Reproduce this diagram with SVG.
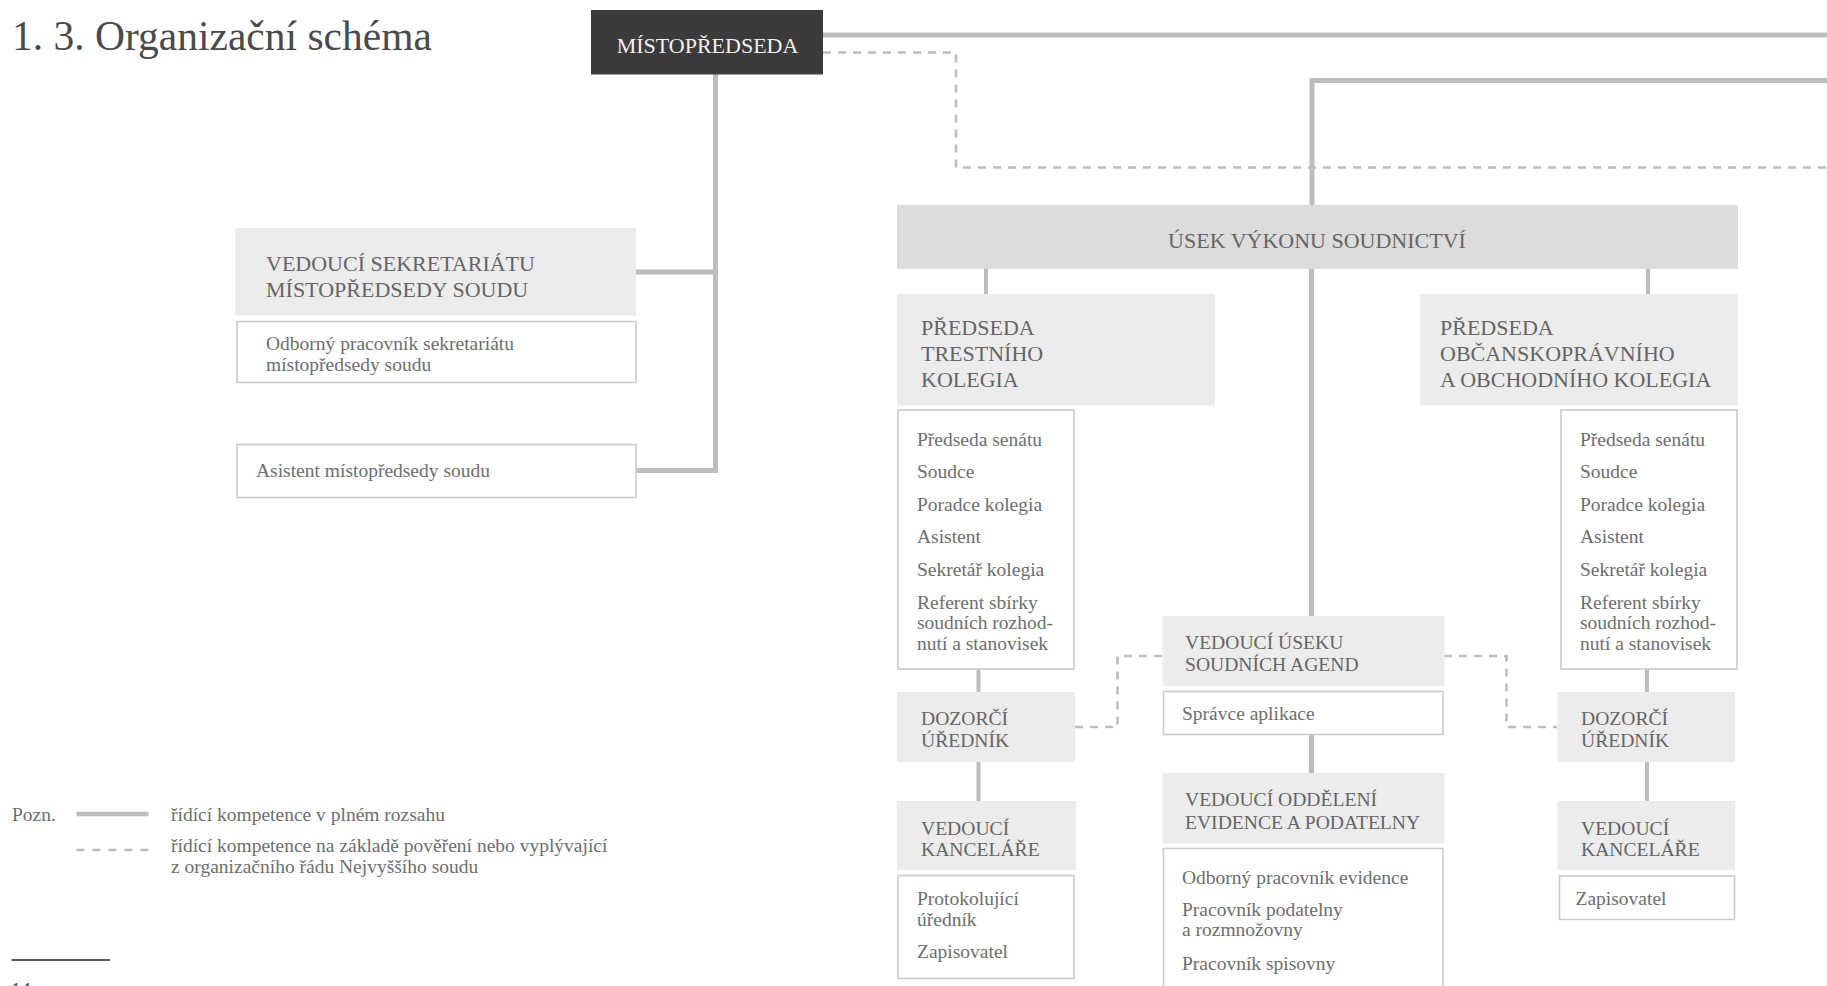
<svg xmlns="http://www.w3.org/2000/svg" width="1827" height="986" viewBox="0 0 1827 986">
<style>
text{font-family:"Liberation Serif","Times New Roman",serif;fill:#6a6a6a}
.title{font-size:41.5px;fill:#4a4a4a}
.h{font-size:22px;fill:#656565}
.hs{font-size:19.6px;fill:#656565}
.b{font-size:19.5px;fill:#6e6e6e}
.hd{fill:#ececec}
.sec{fill:#dcdcdc}
.lst{fill:#fff;stroke:#cbcbcb;stroke-width:1.6}
.top{fill:#3b3b3b}
.sl{fill:none;stroke:#bdbdbd;stroke-width:5}
.sl4{fill:none;stroke:#bdbdbd;stroke-width:4}
.dl{fill:none;stroke:#bdbdbd;stroke-width:2.6;stroke-dasharray:8 7}
</style>
<rect width="1827" height="986" fill="#fff"/>
<text class="title" x="12" y="50">1. 3. Organizační schéma</text>

<g id="connectors">
<path class="sl" d="M823,35 H1827"/>
<path class="dl" d="M823,52.5 H956 V167.5 H1827"/>
<path class="sl" d="M1312,205 V80.5 H1827"/>
<path class="sl" d="M715.5,74 V470.5 H636 M715.5,272 H636"/>
<path class="sl4" d="M986,269 V294 M1648,269 V294"/>
<path class="sl" d="M1311.5,269 V616"/>
<path class="sl4" d="M978.5,669 V692 M978.5,762 V801"/>
<path class="sl4" d="M1647,669 V692 M1647,762 V801"/>
<path class="sl" d="M1311.5,735 V773"/>
<path class="dl" d="M1075,727 H1117.5 V656 H1162"/>
<path class="dl" d="M1444,656 H1506.5 V727 H1557"/>
</g>

<g id="mistopredseda">
<rect class="top" x="591" y="10" width="232" height="64.5"/>
<text class="h" x="707.5" y="53" text-anchor="middle" style="fill:#f2f2f2">MÍSTOPŘEDSEDA</text>
</g>

<g id="vedouci-sekretariatu">
<rect class="hd" x="235" y="228" width="401" height="87.5"/>
<text class="h" x="266" y="270.5">VEDOUCÍ SEKRETARIÁTU</text>
<text class="h" x="266" y="296.5">MÍSTOPŘEDSEDY SOUDU</text>
</g>

<g id="odborny-pracovnik">
<rect class="lst" x="237" y="321.5" width="399" height="61"/>
<text class="b" x="266" y="350">Odborný pracovník sekretariátu</text>
<text class="b" x="266" y="370.5">místopředsedy soudu</text>
</g>

<g id="asistent">
<rect class="lst" x="237" y="444.5" width="399" height="53"/>
<text class="b" x="256" y="476.5">Asistent místopředsedy soudu</text>
</g>

<g id="usek-vykonu">
<rect class="sec" x="897" y="205" width="841" height="64"/>
<text class="h" x="1317" y="247.5" text-anchor="middle">ÚSEK VÝKONU SOUDNICTVÍ</text>
</g>

<g id="predseda-trestniho">
<rect class="hd" x="897" y="294" width="318" height="111.5"/>
<text class="h" x="921" y="335">PŘEDSEDA</text>
<text class="h" x="921" y="361">TRESTNÍHO</text>
<text class="h" x="921" y="387">KOLEGIA</text>
</g>

<g id="predseda-obcanskopravniho">
<rect class="hd" x="1420" y="294" width="318" height="111.5"/>
<text class="h" x="1440" y="335">PŘEDSEDA</text>
<text class="h" x="1440" y="361">OBČANSKOPRÁVNÍHO</text>
<text class="h" x="1440" y="387">A OBCHODNÍHO KOLEGIA</text>
</g>

<g id="trestni-seznam">
<rect class="lst" x="898" y="410" width="176" height="259"/>
<text class="b" x="917" y="445.5">Předseda senátu</text>
<text class="b" x="917" y="478">Soudce</text>
<text class="b" x="917" y="511">Poradce kolegia</text>
<text class="b" x="917" y="543">Asistent</text>
<text class="b" x="917" y="575.5">Sekretář kolegia</text>
<text class="b" x="917" y="609">Referent sbírky</text>
<text class="b" x="917" y="629">soudních rozhod-</text>
<text class="b" x="917" y="649.5">nutí a stanovisek</text>
</g>

<g id="obcansky-seznam">
<rect class="lst" x="1561" y="410" width="176" height="259"/>
<text class="b" x="1580" y="445.5">Předseda senátu</text>
<text class="b" x="1580" y="478">Soudce</text>
<text class="b" x="1580" y="511">Poradce kolegia</text>
<text class="b" x="1580" y="543">Asistent</text>
<text class="b" x="1580" y="575.5">Sekretář kolegia</text>
<text class="b" x="1580" y="609">Referent sbírky</text>
<text class="b" x="1580" y="629">soudních rozhod-</text>
<text class="b" x="1580" y="649.5">nutí a stanovisek</text>
</g>

<g id="dozorci-trestni">
<rect class="hd" x="897" y="692" width="178" height="70"/>
<text class="hs" x="921" y="725">DOZORČÍ</text>
<text class="hs" x="921" y="747">ÚŘEDNÍK</text>
</g>

<g id="dozorci-obcansky">
<rect class="hd" x="1557.5" y="692" width="177.5" height="70"/>
<text class="hs" x="1581" y="725">DOZORČÍ</text>
<text class="hs" x="1581" y="747">ÚŘEDNÍK</text>
</g>

<g id="vedouci-kancelare-trestni">
<rect class="hd" x="897" y="801" width="179" height="69"/>
<text class="hs" x="921" y="834.5">VEDOUCÍ</text>
<text class="hs" x="921" y="856">KANCELÁŘE</text>
</g>

<g id="vedouci-kancelare-obcansky">
<rect class="hd" x="1557.5" y="801" width="177.5" height="69"/>
<text class="hs" x="1581" y="834.5">VEDOUCÍ</text>
<text class="hs" x="1581" y="856">KANCELÁŘE</text>
</g>

<g id="kancelar-trestni-seznam">
<rect class="lst" x="898" y="875.5" width="176" height="103"/>
<text class="b" x="917" y="905">Protokolující</text>
<text class="b" x="917" y="926">úředník</text>
<text class="b" x="917" y="958">Zapisovatel</text>
</g>

<g id="kancelar-obcansky-seznam">
<rect class="lst" x="1559.5" y="876" width="175" height="43.5"/>
<text class="b" x="1575.5" y="904.5">Zapisovatel</text>
</g>

<g id="vedouci-useku-agend">
<rect class="hd" x="1162.5" y="616" width="282" height="70"/>
<text class="hs" x="1185" y="649">VEDOUCÍ ÚSEKU</text>
<text class="hs" x="1185" y="671">SOUDNÍCH AGEND</text>
</g>

<g id="spravce-aplikace">
<rect class="lst" x="1163.5" y="691.5" width="279.5" height="43"/>
<text class="b" x="1182" y="720">Správce aplikace</text>
</g>

<g id="vedouci-oddeleni">
<rect class="hd" x="1162.5" y="773" width="282" height="70.5"/>
<text class="hs" x="1185" y="806">VEDOUCÍ ODDĚLENÍ</text>
<text class="hs" x="1185" y="828.5">EVIDENCE A PODATELNY</text>
</g>

<g id="evidence-seznam">
<rect class="lst" x="1163.5" y="848.5" width="279.5" height="150"/>
<text class="b" x="1182" y="884">Odborný pracovník evidence</text>
<text class="b" x="1182" y="916">Pracovník podatelny</text>
<text class="b" x="1182" y="936">a rozmnožovny</text>
<text class="b" x="1182" y="969.5">Pracovník spisovny</text>
</g>

<g id="legenda">
<text class="b" x="12" y="820.5">Pozn.</text>
<path d="M76.5,814 H148.5" stroke="#bdbdbd" stroke-width="4.5" fill="none"/>
<text class="b" x="171" y="820.5">řídící kompetence v plném rozsahu</text>
<path d="M76.5,850 H148.5" stroke="#bdbdbd" stroke-width="2.6" stroke-dasharray="8 8" fill="none"/>
<text class="b" x="171" y="852">řídící kompetence na základě pověření nebo vyplývající</text>
<text class="b" x="171" y="873">z organizačního řádu Nejvyššího soudu</text>
</g>

<path d="M11.5,960 H110" stroke="#222" stroke-width="1.5"/>
<text class="b" x="11" y="996" style="fill:#444">14</text>
</svg>
